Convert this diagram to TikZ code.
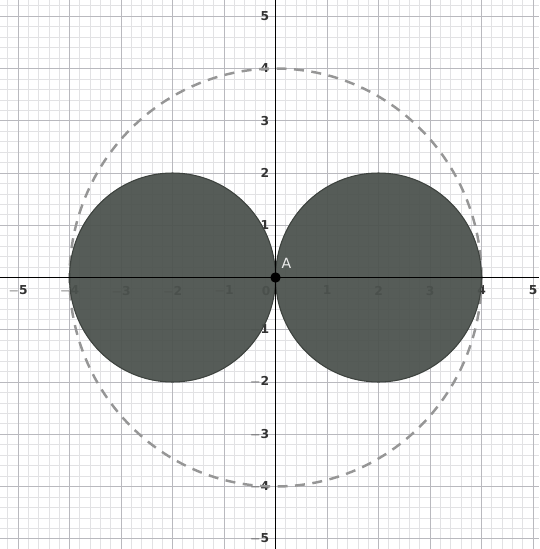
\documentclass[tikz,border=0pt]{standalone}
\usepackage{fontspec}
\setmainfont{DejaVu Sans}
\definecolor{minorgrid}{RGB}{226,226,228}
\definecolor{majorgrid}{RGB}{185,185,190}
\definecolor{diskfill}{RGB}{76,82,78}
\definecolor{dashgray}{RGB}{150,150,150}
\tikzset{
  ticklab/.style={font=\fontsize{7}{8}\selectfont\bfseries, text=black!80, inner sep=1pt},
  disk/.style={fill=diskfill, fill opacity=0.94, draw=diskfill!80!black, line width=0.6pt},
  bigcirc/.style={draw=dashgray, line width=1.4pt, dash pattern=on 0.2cm off 0.15cm},
  axisline/.style={black, line width=1.1pt},
}
\begin{document}
\begin{tikzpicture}[x=1.03cm, y=1.045cm]
\path[use as bounding box, fill=white] (-5.350,-5.196) rectangle (5.117,5.311);
% grid
\draw[minorgrid, line width=0.4pt] (-5.350,-5.196) grid[step=0.2] (5.117,5.311);
\draw[majorgrid, line width=0.5pt] (-5.350,-5.196) grid[step=1] (5.117,5.311);
% tick labels
\foreach \i in {-5,-4,-3,-2,-1,1,2,3,4,5} {
  \node[ticklab, anchor=north] (xl\i) at (\i,-0.12) {$\mathbf{\i}$};
}
\foreach \i in {-5,-4,-3,-2,-1,1,2,3,4,5} {
  \node[ticklab, anchor=east] (yl\i) at (-0.08,\i) {$\mathbf{\i}$};
}
\node[ticklab, anchor=north east] (zl) at (-0.06,-0.12) {$\mathbf{0}$};
% dashed circle
\draw[bigcirc] (0,0) circle (4);
% disks
\path[disk] (-2,0) circle (2);
\path[disk] (2,0) circle (2);
% axes
\draw[axisline] (-5.350,0) -- (5.117,0);
\draw[axisline] (0,-5.196) -- (0,5.311);
% point A
\fill[black] (0,0) circle (0.1);
\node[font=\fontsize{8}{9}\selectfont, text=white!92!black, inner sep=0pt] (A) at (0.21,0.27) {A};
\end{tikzpicture}
\end{document}
